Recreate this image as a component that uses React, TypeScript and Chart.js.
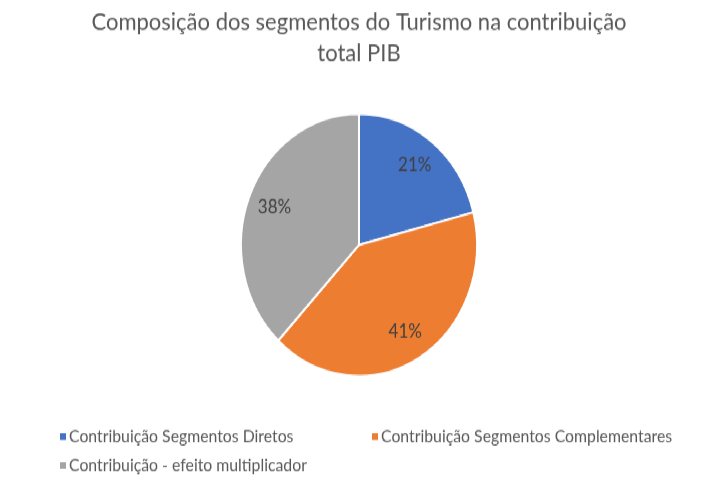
import React, { useEffect, useRef } from "react";
import { Chart, registerables } from "chart.js";

Chart.register(...registerables);

const titleLines = ["Composição dos segmentos do Turismo na contribuição", "total PIB"];
const categories = [
  "Contribuição Segmentos Diretos",
  "Contribuição Segmentos Complementares",
  "Contribuição - efeito multiplicador",
];
const values = [21, 41, 38];
const colors = ["#4472C4", "#ED7D31", "#A5A5A5"];

const FONT = "Lato, 'DejaVu Sans', sans-serif";
const W = 720;
const H = 432;
const STRETCH = 480 / H;

const sliceLabels = {
  id: "sliceLabels",
  afterDatasetsDraw(chart: any) {
    const ctx = chart.ctx;
    const meta = chart.getDatasetMeta(0);
    const data = chart.data.datasets[0].data as number[];
    const total = data.reduce((a, b) => a + b, 0);
    ctx.save();
    ctx.font = `17px ${FONT}`;
    ctx.fillStyle = "#404040";
    ctx.textAlign = "center";
    ctx.textBaseline = "middle";
    meta.data.forEach((arc: any, i: number) => {
      const p = arc.getProps(["x", "y", "startAngle", "endAngle", "outerRadius"], true);
      const mid = (p.startAngle + p.endAngle) / 2;
      const r = p.outerRadius * 0.77;
      const pct = Math.round((data[i] / total) * 100) + "%";
      ctx.fillText(pct, p.x + Math.cos(mid) * r, p.y + Math.sin(mid) * r);
    });
    ctx.restore();
  },
};

const gridLegend = {
  id: "gridLegend",
  afterDraw(chart: any) {
    const ctx = chart.ctx;
    const labels = chart.data.labels as string[];
    const bg = chart.data.datasets[0].backgroundColor as string[];
    const colX = [60, 372];
    const rowY = [393, 419];
    ctx.save();
    ctx.font = `15.8px ${FONT}`;
    ctx.textBaseline = "middle";
    ctx.textAlign = "left";
    labels.forEach((lab, i) => {
      const x = colX[i % 2];
      const y = rowY[Math.floor(i / 2)];
      ctx.fillStyle = bg[i];
      ctx.fillRect(x, y - 3, 6, 6);
      ctx.fillStyle = "#595959";
      ctx.fillText(lab, x + 9, y);
    });
    ctx.restore();
  },
};

export default function App() {
  const ref = useRef<HTMLCanvasElement>(null);
  useEffect(() => {
    document.body.style.margin = "0";
    const chart = new Chart(ref.current!, {
      type: "pie",
      data: {
        labels: categories,
        datasets: [
          {
            data: values,
            backgroundColor: colors,
            borderColor: "#ffffff",
            borderWidth: 2,
            radius: 118,
          },
        ],
      },
      options: {
        responsive: false,
        animation: false,
        devicePixelRatio: 1,
        layout: { padding: { top: 0, left: 0, right: 2, bottom: 63 } },
        plugins: {
          legend: { display: false },
          tooltip: { enabled: false },
          title: {
            display: true,
            text: titleLines,
            color: "#595959",
            font: { family: FONT, size: 22, weight: "normal", lineHeight: 1.27 },
            padding: { top: 6, bottom: 10 },
          },
        },
      },
      plugins: [sliceLabels, gridLegend],
    });
    return () => chart.destroy();
  }, []);
  return (
    <div
      style={{
        position: "fixed",
        left: 0,
        top: 0,
        width: W,
        height: H,
        transform: `scaleY(${STRETCH})`,
        transformOrigin: "0 0",
        background: "#fff",
      }}
    >
      <canvas ref={ref} width={W} height={H} />
    </div>
  );
}
